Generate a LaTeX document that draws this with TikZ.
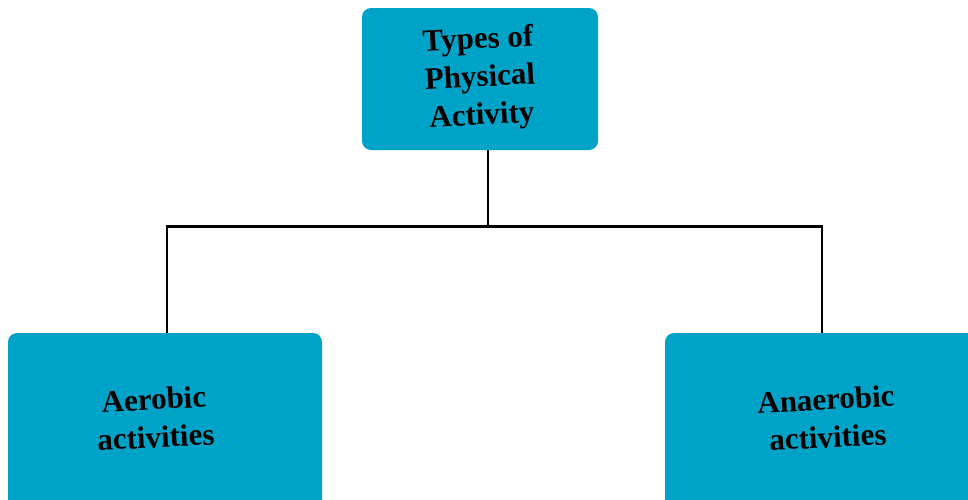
\documentclass[tikz,border=0pt]{standalone}
\usepackage{fontspec}
\setmainfont{Liberation Serif}
\definecolor{boxblue}{RGB}{0,163,200}
\begin{document}
\begin{tikzpicture}[x=1pt,y=-1pt,
        box/.style={fill=boxblue, rounded corners=9pt, inner sep=0pt,
          font=\bfseries\fontsize{31}{38}\selectfont, align=center},
        conn/.style={draw=black, line width=2.8pt}]
        \useasboundingbox (0,0) rectangle (968,499);
        \clip (0,0) rectangle (968,499);
        \node[box, minimum width=236pt, minimum height=142pt] (types) at (480,79)
        {\rotatebox{3}{\begin{tabular}{@{}c@{}}Types of\\Physical\\Activity\end{tabular}}};
        \node[box, minimum width=314pt, minimum height=176pt] (aerobic) at (165,421)
        {\hspace*{-20pt}\rotatebox{3}{\begin{tabular}{@{}c@{}}Aerobic\\activities\end{tabular}}};
        \node[box, minimum width=314pt, minimum height=176pt] (anaerobic) at (822,421)
        {\hspace*{10pt}\rotatebox{3}{\begin{tabular}{@{}c@{}}Anaerobic\\activities\end{tabular}}};
        \draw[conn] ([xshift=8pt]types.south) -- ++(0,76) coordinate (mid);
        \draw[conn] ([xshift=2pt]aerobic.north) |- (mid) -| (anaerobic.north);
      \end{tikzpicture}
\end{document}
